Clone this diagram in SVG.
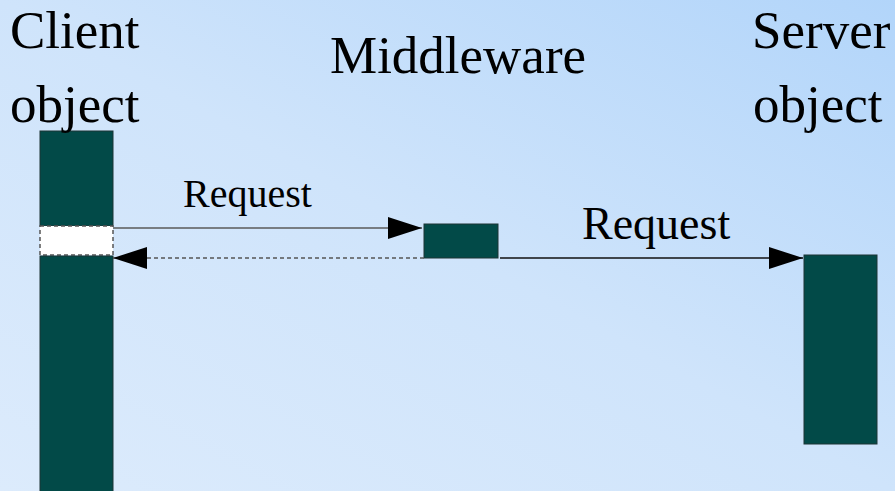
<svg xmlns="http://www.w3.org/2000/svg" width="895" height="491" viewBox="0 0 895 491">
<defs>
<linearGradient id="bg" x1="0" y1="1" x2="1" y2="0">
<stop offset="0" stop-color="#dcebfc"/>
<stop offset="0.5" stop-color="#cfe4fb"/>
<stop offset="1" stop-color="#b2d5fa"/>
</linearGradient>
<marker id="ah" markerUnits="userSpaceOnUse" markerWidth="36" markerHeight="24" refX="34" refY="11" orient="auto">
<path d="M0,0 L34,11 L0,22 Z" fill="#000"/>
</marker>
</defs>
<style>
.bar{fill:#024a48;stroke:#1d3535;stroke-width:1}
.t{font-family:"Liberation Serif","Times New Roman",serif;fill:#000}
.big{font-size:53px}
</style>
<rect width="895" height="491" fill="url(#bg)"/>
<g id="client">
<rect class="bar" x="40" y="131" width="73" height="95"/>
<rect x="40" y="226" width="73" height="29" fill="#fff" stroke="#555" stroke-width="1.5" stroke-dasharray="4,3"/>
<rect class="bar" x="40" y="256" width="73" height="240"/>
<text class="t big" x="10" y="48">Client</text>
<text class="t big" x="10" y="122">object</text>
</g>
<g id="middleware">
<rect class="bar" x="424" y="224" width="74" height="34"/>
<text class="t big" x="330" y="73">Middleware</text>
</g>
<g id="server">
<rect class="bar" x="804" y="255" width="73" height="189"/>
<text class="t big" x="752" y="48">Server</text>
<text class="t big" x="753" y="122">object</text>
</g>
<g id="connectors">
<line x1="113" y1="228" x2="422" y2="228" stroke="#5a5a5a" stroke-width="1.5" marker-end="url(#ah)"/>
<text class="t" x="183" y="207" font-size="40">Request</text>
<line x1="424" y1="258" x2="113" y2="258" stroke="#555" stroke-width="1.5" stroke-dasharray="4,3" marker-end="url(#ah)"/>
<line x1="500" y1="258" x2="803" y2="258" stroke="#111" stroke-width="1.3" marker-end="url(#ah)"/>
<text class="t" x="582" y="239" font-size="46">Request</text>
</g>
</svg>
